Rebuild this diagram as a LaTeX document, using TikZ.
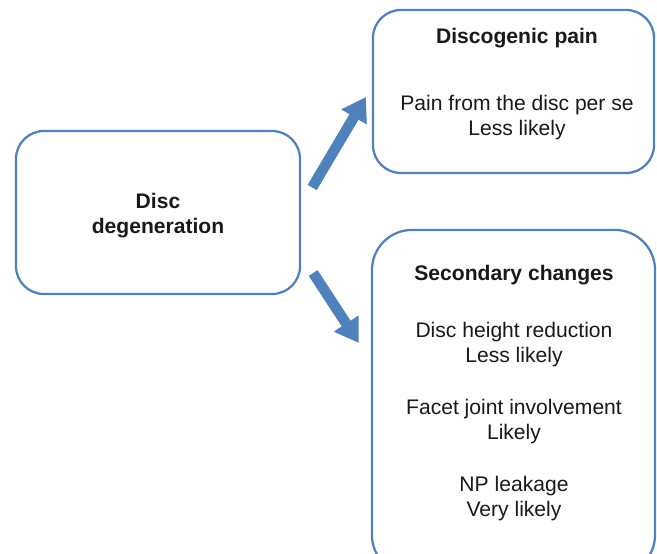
\documentclass[tikz,border=0pt]{standalone}
\usepackage{fontspec}
\setmainfont{Liberation Sans}
\usetikzlibrary{arrows.meta,calc}
\definecolor{boxblue}{RGB}{79,129,189}

\begin{document}
\begin{tikzpicture}[
    x=0.025cm, y=-0.025cm,
    box/.style={draw=boxblue, line width=1.6pt, rounded corners=0.7cm},
    txt/.style={align=center, inner sep=0pt, text=black!90, font=\fontsize{15}{17.8}\selectfont},
    bigarrow/.style={draw=boxblue, line width=7.5pt, -{Triangle[width=0.7cm, length=0.58cm]}}
]
    \useasboundingbox (0,0) rectangle (657,553);
    \clip (0,0) rectangle (657,553);

    % Boxes
    \node[box, minimum width=7.1cm, minimum height=4.075cm] (degen) at (158,212.5) {};
    \node[box, minimum width=7.025cm, minimum height=4.075cm] (pain) at (513.5,91.5) {};
    \node[box, rounded corners=1cm, minimum width=7.075cm, minimum height=8.625cm] (changes) at (513.5,402.5) {};

    % Texts
    \node[txt] (degentxt) at (158,216) {\textbf{Disc}\\\textbf{degeneration}};
    \node[txt] (paintitle) at (517,38) {\textbf{Discogenic pain}};
    \node[txt] (painbody) at (517,118) {Pain from the disc per se\\Less likely};
    \node[txt] (chgtitle) at (514,275) {\textbf{Secondary changes}};
    \node[txt] (height) at (514,345) {Disc height reduction\\Less likely};
    \node[txt] (facet) at (514,422) {Facet joint involvement\\Likely};
    \node[txt] (leak) at (514,499) {NP leakage\\Very likely};

    % Arrows
    \coordinate (upfrom) at ($(degen.east)+(11,-25)$);
    \coordinate (upto) at ($(pain.west)+(-6,5.5)$);
    \coordinate (downfrom) at ($(degen.east)+(12,60.5)$);
    \coordinate (downto) at ($(changes.west)+(-12,-59.5)$);
    \draw[bigarrow] (upfrom) -- (upto);
    \draw[bigarrow] (downfrom) -- (downto);
\end{tikzpicture}
\end{document}
